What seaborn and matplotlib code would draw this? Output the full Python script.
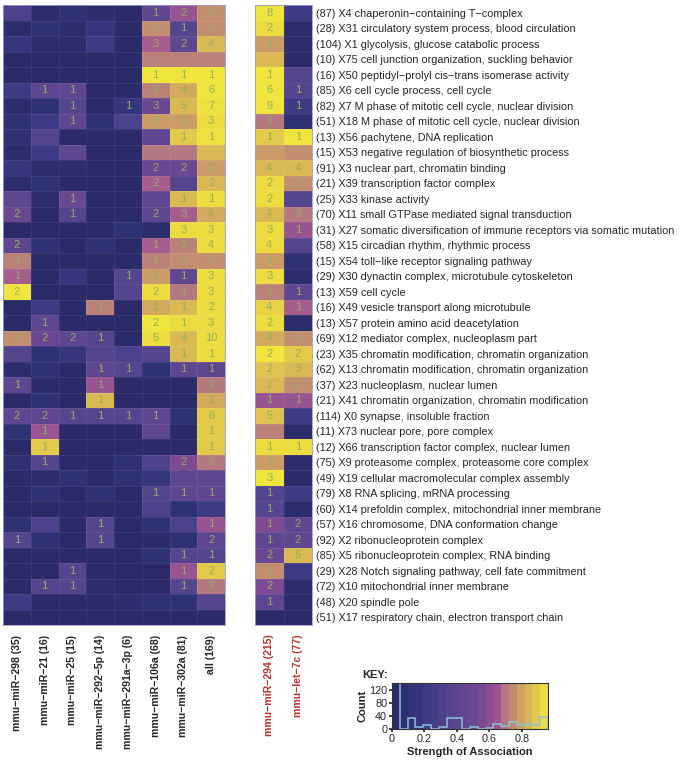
import numpy as np
import pandas as pd
import matplotlib
matplotlib.use("Agg")
import matplotlib.pyplot as plt
import seaborn as sns
from matplotlib.colors import LinearSegmentedColormap

terms = [
    "(87) X4 chaperonin−containing T−complex",
    "(28) X31 circulatory system process, blood circulation",
    "(104) X1 glycolysis, glucose catabolic process",
    "(10) X75 cell junction organization, suckling behavior",
    "(16) X50 peptidyl−prolyl cis−trans isomerase activity",
    "(85) X6 cell cycle process, cell cycle",
    "(82) X7 M phase of mitotic cell cycle, nuclear division",
    "(51) X18 M phase of mitotic cell cycle, nuclear division",
    "(13) X56 pachytene, DNA replication",
    "(15) X53 negative regulation of biosynthetic process",
    "(91) X3 nuclear part, chromatin binding",
    "(21) X39 transcription factor complex",
    "(25) X33 kinase activity",
    "(70) X11 small GTPase mediated signal transduction",
    "(31) X27 somatic diversification of immune receptors via somatic mutation",
    "(58) X15 circadian rhythm, rhythmic process",
    "(15) X54 toll−like receptor signaling pathway",
    "(29) X30 dynactin complex, microtubule cytoskeleton",
    "(13) X59 cell cycle",
    "(16) X49 vesicle transport along microtubule",
    "(13) X57 protein amino acid deacetylation",
    "(69) X12 mediator complex, nucleoplasm part",
    "(23) X35 chromatin modification, chromatin organization",
    "(62) X13 chromatin modification, chromatin organization",
    "(37) X23 nucleoplasm, nuclear lumen",
    "(21) X41 chromatin organization, chromatin modification",
    "(114) X0 synapse, insoluble fraction",
    "(11) X73 nuclear pore, pore complex",
    "(12) X66 transcription factor complex, nuclear lumen",
    "(75) X9 proteasome complex, proteasome core complex",
    "(49) X19 cellular macromolecular complex assembly",
    "(79) X8 RNA splicing, mRNA processing",
    "(60) X14 prefoldin complex, mitochondrial inner membrane",
    "(57) X16 chromosome, DNA conformation change",
    "(92) X2 ribonucleoprotein complex",
    "(85) X5 ribonucleoprotein complex, RNA binding",
    "(29) X28 Notch signaling pathway, cell fate commitment",
    "(72) X10 mitochondrial inner membrane",
    "(48) X20 spindle pole",
    "(51) X17 respiratory chain, electron transport chain",
]

groups_left = ["mmu−miR−298 (35)", "mmu−miR−21 (16)", "mmu−miR−25 (15)",
               "mmu−miR−292−5p (14)", "mmu−miR−291a−3p (6)", "mmu−miR−106a (68)",
               "mmu−miR−302a (81)", "all (169)"]
groups_right = ["mmu−miR−294 (215)", "mmu−let−7c (77)"]

# strength of association, one row per term
strength_left = [
    [0.30, 0.04, 0.10, 0.04, 0.02, 0.42, 0.63, 0.75],
    [0.04, 0.10, 0.04, 0.16, 0.02, 0.75, 0.36, 0.75],
    [0.16, 0.04, 0.04, 0.22, 0.02, 0.66, 0.42, 0.85],
    [0.02, 0.02, 0.02, 0.02, 0.02, 0.72, 0.72, 0.72],
    [0.02, 0.02, 0.02, 0.02, 0.02, 0.95, 0.95, 0.95],
    [0.22, 0.42, 0.42, 0.02, 0.02, 0.72, 0.81, 0.95],
    [0.04, 0.10, 0.36, 0.02, 0.16, 0.50, 0.85, 0.94],
    [0.10, 0.22, 0.42, 0.10, 0.30, 0.78, 0.78, 0.93],
    [0.10, 0.36, 0.02, 0.02, 0.02, 0.42, 0.89, 0.94],
    [0.04, 0.22, 0.42, 0.02, 0.02, 0.70, 0.70, 0.85],
    [0.16, 0.04, 0.04, 0.02, 0.02, 0.50, 0.50, 0.78],
    [0.04, 0.10, 0.02, 0.02, 0.02, 0.66, 0.36, 0.85],
    [0.42, 0.04, 0.50, 0.02, 0.02, 0.42, 0.85, 0.93],
    [0.50, 0.02, 0.36, 0.02, 0.02, 0.42, 0.66, 0.81],
    [0.02, 0.02, 0.02, 0.02, 0.10, 0.04, 0.93, 0.93],
    [0.42, 0.10, 0.02, 0.10, 0.02, 0.66, 0.72, 0.93],
    [0.72, 0.02, 0.02, 0.02, 0.02, 0.72, 0.75, 0.75],
    [0.66, 0.02, 0.16, 0.02, 0.36, 0.78, 0.42, 0.93],
    [0.95, 0.02, 0.02, 0.02, 0.36, 0.93, 0.70, 0.93],
    [0.02, 0.22, 0.02, 0.72, 0.02, 0.81, 0.85, 0.93],
    [0.02, 0.42, 0.02, 0.02, 0.02, 0.95, 0.93, 0.93],
    [0.75, 0.50, 0.42, 0.36, 0.02, 0.93, 0.85, 0.93],
    [0.36, 0.10, 0.16, 0.36, 0.30, 0.36, 0.85, 0.93],
    [0.04, 0.10, 0.02, 0.42, 0.36, 0.10, 0.42, 0.42],
    [0.42, 0.02, 0.02, 0.63, 0.02, 0.02, 0.02, 0.70],
    [0.02, 0.10, 0.02, 0.85, 0.02, 0.02, 0.02, 0.81],
    [0.42, 0.42, 0.36, 0.36, 0.36, 0.42, 0.10, 0.89],
    [0.10, 0.63, 0.02, 0.02, 0.02, 0.42, 0.02, 0.89],
    [0.02, 0.89, 0.02, 0.02, 0.02, 0.02, 0.02, 0.89],
    [0.10, 0.36, 0.02, 0.02, 0.10, 0.30, 0.58, 0.70],
    [0.02, 0.04, 0.10, 0.02, 0.10, 0.16, 0.42, 0.42],
    [0.02, 0.10, 0.02, 0.10, 0.02, 0.36, 0.42, 0.42],
    [0.02, 0.02, 0.02, 0.02, 0.02, 0.30, 0.10, 0.22],
    [0.10, 0.30, 0.02, 0.36, 0.02, 0.10, 0.30, 0.63],
    [0.36, 0.10, 0.02, 0.36, 0.02, 0.02, 0.10, 0.42],
    [0.02, 0.02, 0.02, 0.02, 0.02, 0.10, 0.36, 0.36],
    [0.02, 0.02, 0.36, 0.02, 0.02, 0.02, 0.63, 0.89],
    [0.02, 0.36, 0.36, 0.04, 0.02, 0.02, 0.36, 0.70],
    [0.22, 0.02, 0.02, 0.02, 0.06, 0.10, 0.10, 0.36],
    [0.02, 0.02, 0.02, 0.02, 0.02, 0.02, 0.02, 0.02],
]

# number of genes shared (blank when 0)
count_left = [
    [0, 0, 0, 0, 0, 1, 2, 2],
    [0, 0, 0, 0, 0, 1, 1, 1],
    [0, 0, 0, 0, 0, 3, 2, 4],
    [0, 0, 0, 0, 0, 0, 0, 0],
    [0, 0, 0, 0, 0, 1, 1, 1],
    [0, 1, 1, 0, 0, 3, 4, 6],
    [0, 0, 1, 0, 1, 3, 5, 7],
    [0, 0, 1, 0, 0, 2, 2, 3],
    [0, 0, 0, 0, 0, 0, 1, 1],
    [0, 0, 0, 0, 0, 0, 0, 0],
    [0, 0, 0, 0, 0, 2, 2, 2],
    [0, 0, 0, 0, 0, 2, 0, 2],
    [0, 0, 1, 0, 0, 0, 1, 1],
    [2, 0, 1, 0, 0, 2, 3, 4],
    [0, 0, 0, 0, 0, 0, 3, 3],
    [2, 0, 0, 0, 0, 1, 2, 4],
    [1, 0, 0, 0, 0, 1, 1, 1],
    [1, 0, 0, 0, 1, 2, 1, 3],
    [2, 0, 0, 0, 0, 2, 1, 3],
    [0, 0, 0, 1, 0, 1, 1, 2],
    [0, 1, 0, 0, 0, 2, 1, 3],
    [3, 2, 2, 1, 0, 5, 4, 10],
    [0, 0, 0, 0, 0, 0, 1, 1],
    [0, 0, 0, 1, 1, 0, 1, 1],
    [1, 0, 0, 1, 0, 0, 0, 2],
    [0, 0, 0, 1, 0, 0, 0, 1],
    [2, 2, 1, 1, 1, 1, 0, 6],
    [0, 1, 0, 0, 0, 0, 0, 1],
    [0, 1, 0, 0, 0, 0, 0, 1],
    [0, 1, 0, 0, 0, 0, 2, 3],
    [0, 0, 0, 0, 0, 0, 0, 0],
    [0, 0, 0, 0, 0, 1, 1, 1],
    [0, 0, 0, 0, 0, 0, 0, 0],
    [0, 0, 0, 1, 0, 0, 0, 1],
    [1, 0, 0, 1, 0, 0, 0, 2],
    [0, 0, 0, 0, 0, 0, 1, 1],
    [0, 0, 1, 0, 0, 0, 1, 2],
    [0, 1, 1, 0, 0, 0, 1, 3],
    [0, 0, 0, 0, 0, 0, 0, 0],
    [0, 0, 0, 0, 0, 0, 0, 0],
]

strength_right = [
    [0.95, 0.22], [0.93, 0.04], [0.78, 0.04], [0.85, 0.02], [0.95, 0.36],
    [0.95, 0.36], [0.95, 0.22], [0.70, 0.10], [0.89, 0.95], [0.78, 0.75],
    [0.85, 0.85], [0.93, 0.75], [0.93, 0.36], [0.85, 0.70], [0.93, 0.63],
    [0.93, 0.36], [0.78, 0.10], [0.93, 0.04], [0.72, 0.42], [0.91, 0.66],
    [0.93, 0.04], [0.81, 0.75], [0.95, 0.89], [0.87, 0.85], [0.85, 0.75],
    [0.63, 0.63], [0.87, 0.22], [0.72, 0.04], [0.93, 0.93], [0.78, 0.04],
    [0.95, 0.02], [0.36, 0.22], [0.36, 0.04], [0.58, 0.42], [0.42, 0.42],
    [0.50, 0.85], [0.75, 0.22], [0.58, 0.04], [0.42, 0.04], [0.02, 0.02],
]

count_right = [
    [8, 0], [2, 0], [4, 0], [0, 0], [1, 0], [6, 1], [9, 1], [1, 0], [1, 1], [0, 0],
    [4, 4], [2, 1], [2, 0], [4, 3], [3, 1], [4, 0], [1, 0], [3, 0], [1, 1], [4, 1],
    [2, 0], [4, 3], [2, 2], [2, 3], [2, 2], [1, 1], [5, 0], [0, 0], [1, 1], [3, 0],
    [3, 0], [1, 0], [1, 0], [1, 2], [1, 2], [2, 5], [1, 0], [2, 0], [1, 0], [0, 0],
]

sns.set_theme(style="white")
plt.rcParams["font.family"] = ["Liberation Sans", "DejaVu Sans"]

cmap = LinearSegmentedColormap.from_list("assoc", [
    (0.0, "#2a2a66"), (0.104, "#2f3175"), (0.208, "#3a3a84"), (0.3125, "#4b418c"),
    (0.4167, "#5c4690"), (0.521, "#6a4891"), (0.604, "#7e4b93"), (0.677, "#a05590"),
    (0.729, "#b47880"), (0.781, "#c28c70"), (0.833, "#d0a462"), (0.896, "#dcbc52"),
    (1.0, "#f2e83a")])
vmax = 0.96
annot_color = "#93ae63"

dfL = pd.DataFrame(strength_left, index=terms, columns=groups_left)
dfR = pd.DataFrame(strength_right, index=terms, columns=groups_right)
cntL = np.array(count_left)
cntR = np.array(count_right)
annL = np.where(cntL > 0, cntL.astype(str), "")
annR = np.where(cntR > 0, cntR.astype(str), "")

fig = plt.figure(figsize=(6.8, 7.6), dpi=100)
axL = fig.add_axes([3/680, 135/760, 222/680, 620/760])
axR = fig.add_axes([255/680, 135/760, 57/680, 620/760])

sns.heatmap(dfL, ax=axL, cmap=cmap, vmin=0, vmax=vmax, cbar=False,
            annot=annL, fmt="", annot_kws={"size": 8, "color": annot_color},
            linewidths=0.4, linecolor=(1, 1, 1, 0.07), yticklabels=False)
sns.heatmap(dfR, ax=axR, cmap=cmap, vmin=0, vmax=vmax, cbar=False,
            annot=annR, fmt="", annot_kws={"size": 8, "color": annot_color},
            linewidths=0.4, linecolor=(1, 1, 1, 0.07), yticklabels=True)

for ax in (axL, axR):
    ax.set_xlabel(""); ax.set_ylabel("")
    ax.set_xticklabels(ax.get_xticklabels(), rotation=90, fontsize=7.6, fontweight="bold")
    ax.tick_params(axis="x", length=0, pad=7)
    for s in ax.spines.values():
        s.set_visible(True); s.set_color("#9a9ac8"); s.set_linewidth(0.6)

for lab in axR.get_xticklabels():
    lab.set_color("#c0302a")

axR.yaxis.tick_right()
axR.set_yticklabels(terms, rotation=0, fontsize=7.8)
axR.tick_params(axis="y", length=0, pad=3)

# key: colour scale with histogram of all association values
axK = fig.add_axes([392/680, 31/760, 156/680, 46/760])
bins = np.linspace(0, vmax, 21)
centers = (bins[:-1] + bins[1:]) / 2
axK.imshow(centers[np.newaxis, :], cmap=cmap, vmin=0, vmax=vmax, aspect="auto",
           extent=[0, vmax, 0, 140], origin="lower")
allvals = np.concatenate([np.ravel(strength_left), np.ravel(strength_right)])
hist, _ = np.histogram(allvals, bins=bins)
axK.stairs(hist, bins, color="#8cc0d8", lw=1.1)
axK.set_xlim(0, vmax); axK.set_ylim(0, 140)
axK.set_xticks([0, 0.2, 0.4, 0.6, 0.8])
axK.set_xticklabels(["0", "0.2", "0.4", "0.6", "0.8"])
axK.set_yticks([0, 40, 80, 120])
axK.tick_params(labelsize=7.8, length=2.5, pad=1, bottom=True, left=True)
axK.set_xlabel("Strength of Association", fontsize=8, fontweight="bold", labelpad=2)
axK.set_ylabel("Count", fontsize=8, fontweight="bold", labelpad=1)
for s in axK.spines.values():
    s.set_color("#333333"); s.set_linewidth(0.8)
axK.text(-0.19, 1.06, "KEY:", transform=axK.transAxes, fontsize=8, fontweight="bold",
         ha="left", va="bottom")

fig.savefig("out.png", dpi=100)
